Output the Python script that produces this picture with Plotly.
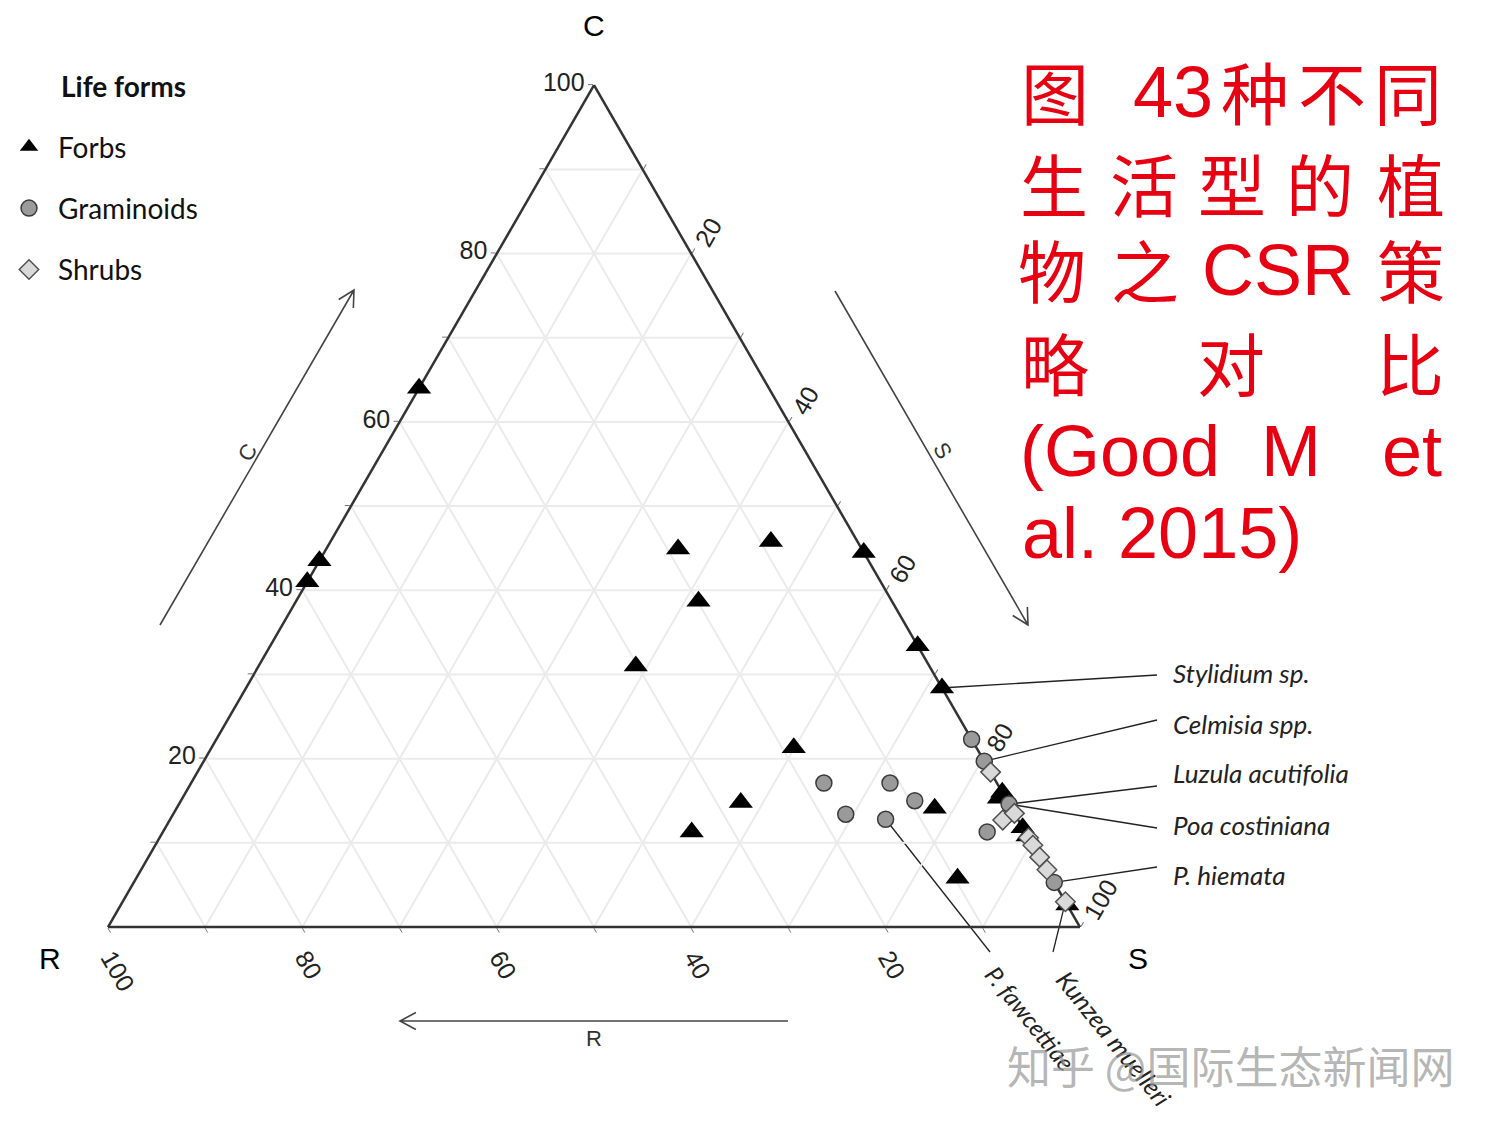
import math
import plotly.graph_objects as go

# ---------------- data (C, R, S percentages) ----------------
forbs_C = [64.0, 43.5, 41.0, 44.9, 45.8, 44.5, 38.7, 31.0, 33.4, 28.4, 21.3, 14.8, 11.3, 14.1, 5.8, 16.0, 15.3, 11.8, 10.8, 2.6]
forbs_R = [36.0, 56.5, 59.0, 18.9, 8.9, 0.0, 19.9, 30.2, 0.0, 0.0, 18.8, 27.5, 34.3, 7.9, 9.7, 0.0, 0.7, 0.0, 0.0, 0.0]
forbs_S = [0.0, 0.0, 0.0, 36.2, 45.3, 55.5, 41.4, 38.8, 66.6, 71.6, 59.9, 57.7, 54.4, 78.0, 84.5, 84.0, 84.0, 88.2, 89.2, 97.4]

gram_C = [22.3, 19.7, 17.1, 17.1, 15.0, 13.4, 12.8, 14.6, 11.3, 5.3]
gram_R = [0.0, 0.0, 17.8, 11.0, 9.5, 17.4, 13.6, 0.0, 3.9, 0.0]
gram_S = [77.7, 80.3, 65.1, 71.9, 75.5, 69.2, 73.6, 85.4, 84.8, 94.7]

shrub_C = [18.4, 12.7, 13.5, 10.6, 9.7, 8.3, 6.8, 3.0]
shrub_R = [0.0, 1.6, 0.0, 0.0, 0.0, 0.0, 0.0, 0.0]
shrub_S = [81.6, 85.7, 86.5, 89.4, 90.3, 91.7, 93.2, 97.0]

series_names = ["Forbs", "Graminoids", "Shrubs"]
tick_vals = [10, 20, 30, 40, 50, 60, 70, 80, 90, 100]
tick_text = ["", "20", "", "40", "", "60", "", "80", "", "100"]

species_labels = ["Stylidium sp.", "Celmisia spp.", "Luzula acutifolia", "Poa costiniana",
                  "P. hiemata", "P. fawcettiae", "Kunzea muelleri"]
species_refs = [("forbs", 9), ("gram", 1), ("gram", 7), ("gram", 7), ("gram", 9), ("gram", 6), ("shrub", 7)]

# ---------------- geometry ----------------
W, H = 1493, 1125
TRI_L, TRI_R, TRI_B = 108.0, 1080.0, 927.0
SIDE = TRI_R - TRI_L
TRI_T = TRI_B - SIDE * math.sqrt(3) / 2
V_C = ((TRI_L + TRI_R) / 2, TRI_T)
V_R = (TRI_L, TRI_B)
V_S = (TRI_R, TRI_B)


def tern_px(c, r, s):
    t = c + r + s
    x = (c * V_C[0] + r * V_R[0] + s * V_S[0]) / t
    y = (c * V_C[1] + r * V_R[1] + s * V_S[1]) / t
    return x, y


def pp(x, y):
    return x / W, 1 - y / H


yc = 1 - ((TRI_B + TRI_T) / 2) / H
data_map = {
    "forbs": (forbs_C, forbs_R, forbs_S),
    "gram": (gram_C, gram_R, gram_S),
    "shrub": (shrub_C, shrub_R, shrub_S),
}

fig = go.Figure()
fig.add_trace(go.Scatterternary(
    a=forbs_C, b=forbs_R, c=forbs_S, mode="markers", name=series_names[0],
    legendgroup="f", cliponaxis=False,
    marker=dict(symbol="triangle-up", size=21, color="black", line=dict(width=0))))
fig.add_trace(go.Scatterternary(
    a=gram_C, b=gram_R, c=gram_S, mode="markers", name=series_names[1],
    legendgroup="g", cliponaxis=False,
    marker=dict(symbol="circle", size=16, color="#9a9a9a", line=dict(width=1.5, color="#3a3a3a"))))
fig.add_trace(go.Scatterternary(
    a=shrub_C, b=shrub_R, c=shrub_S, mode="markers", name=series_names[2],
    legendgroup="s", cliponaxis=False,
    marker=dict(symbol="diamond", size=15, color="#d9d9d9", line=dict(width=1.5, color="#505050"))))

axis_common = dict(
    tickmode="array", tickvals=tick_vals, ticktext=tick_text,
    tickfont=dict(family="Liberation Sans, Arial", size=25, color="#222"),
    linecolor="#333", linewidth=2.5, gridcolor="#ebebeb", gridwidth=1.5,
    ticks="outside", ticklen=5, tickcolor="#777", layer="below traces",
    title=dict(text=""),
)

shapes = []
# leader lines
label_ends = [(1157, 675), (1157, 720), (1157, 786), (1157, 828), (1157, 867), (990, 952), (1053, 952)]
for (key, idx), (ex, ey) in zip(species_refs, label_ends):
    C, R, S = data_map[key]
    x0, y0 = tern_px(C[idx], R[idx], S[idx])
    dx, dy = ex - x0, ey - y0
    d = math.hypot(dx, dy)
    sx, sy = x0 + dx / d * 7, y0 + dy / d * 7
    a0 = pp(sx, sy)
    a1 = pp(ex, ey)
    shapes.append(dict(type="line", xref="paper", yref="paper", x0=a0[0], y0=a0[1], x1=a1[0], y1=a1[1],
                       line=dict(color="#222", width=1.3), layer="below"))


def arrow(x0, y0, x1, y1, head=18, ang=28):
    th = math.atan2(y1 - y0, x1 - x0)
    pts = []
    for sgn in (1, -1):
        a = th + math.pi - sgn * math.radians(ang)
        pts.append((x1 + head * math.cos(a), y1 + head * math.sin(a)))
    P = [pp(x0, y0), pp(x1, y1), pp(*pts[0]), pp(*pts[1])]
    path = (f"M {P[0][0]} {P[0][1]} L {P[1][0]} {P[1][1]} "
            f"M {P[2][0]} {P[2][1]} L {P[1][0]} {P[1][1]} L {P[3][0]} {P[3][1]}")
    return dict(type="path", xref="paper", yref="paper", path=path,
                line=dict(color="#444", width=1.6))


shapes.append(arrow(160, 625, 354, 290))
shapes.append(arrow(835, 291, 1028, 625))
shapes.append(arrow(788, 1021, 400, 1021))

ann = []


def add_text(text, x, y, size, color="black", family="Liberation Sans, Arial", xanchor="center",
             angle=0, yanchor="middle", height=None):
    px_, py_ = pp(x, y)
    d = dict(text=text, x=px_, y=py_, xref="paper", yref="paper", showarrow=False,
             xanchor=xanchor, yanchor=yanchor, textangle=angle,
             font=dict(size=size, color=color, family=family))
    if height is not None:
        d["height"] = height
    ann.append(d)


# vertex labels
add_text("C", 594, 25, 30)
add_text("R", 50, 958, 30)
add_text("S", 1138, 958, 30)
# arrow labels
add_text("C", 247, 452, 22, color="#333", angle=-60)
add_text("S", 943, 450, 22, color="#333", angle=60)
add_text("R", 594, 1038, 22, color="#333")
# species labels
for lab, yy in zip(species_labels[:5], [673, 724, 773, 825, 875]):
    add_text(f"<i>{lab}</i>", 1171, yy, 26, color="#222", family="Lato", xanchor="left")
add_text(f"<i>{species_labels[5]}</i>", 1031, 1018, 24, color="#222", family="Lato", angle=51)
add_text(f"<i>{species_labels[6]}</i>", 1114, 1038, 25, color="#222", family="Lato", angle=51)
# legend title
add_text("<b>Life forms</b>", 59, 86, 28, color="#111", family="Lato", xanchor="left")

# red title
RED = "#E60012"
CJK = "Noto Sans CJK SC"
LAT = "Liberation Sans, Arial"
title_tokens = [
    ("图", 1055, 90, CJK), ("43", 1173, 92, LAT), ("种", 1255, 90, CJK), ("不", 1332, 90, CJK), ("同", 1408, 90, CJK),
    ("生", 1054, 182, CJK), ("活", 1144, 182, CJK), ("型", 1232, 182, CJK), ("的", 1320, 182, CJK), ("植", 1411, 182, CJK),
    ("物", 1052, 268, CJK), ("之", 1145, 268, CJK), ("CSR", 1278, 270, LAT), ("策", 1411, 268, CJK),
    ("略", 1055, 361, CJK), ("对", 1231, 361, CJK), ("比", 1410, 361, CJK),
    ("(Good", 1120, 451, LAT), ("M", 1291, 451, LAT), ("et", 1412, 451, LAT),
    ("al. 2015)", 1162, 533, LAT),
]
for t, x, y, fam in title_tokens:
    add_text(t, x, y, 68 if fam == CJK else 72, color=RED, family=fam, height=80)

# watermark
add_text("知乎 @国际生态新闻网", 1230, 1065, 44, color="rgba(150,150,150,0.7)", family=CJK)

fig.update_layout(
    width=W, height=H, margin=dict(l=0, r=0, t=0, b=0),
    paper_bgcolor="white", plot_bgcolor="white",
    ternary=dict(
        sum=100,
        domain=dict(x=[TRI_L / W, TRI_R / W], y=[yc - 0.4, yc + 0.4]),
        bgcolor="rgba(0,0,0,0)",
        aaxis=dict(**axis_common),
        baxis=dict(**axis_common, tickangle=60),
        caxis=dict(**axis_common, tickangle=-60),
    ),
    legend=dict(x=0, y=1 - 122 / H, xanchor="left", yanchor="top",
                font=dict(family="Lato", size=28, color="#111"),
                tracegroupgap=22, itemwidth=48, bgcolor="rgba(0,0,0,0)"),
    shapes=shapes,
    annotations=ann,
    showlegend=True,
)

fig.write_html("out.html", config={"displayModeBar": False},
               post_script="document.body.style.margin='0px';document.body.style.overflow='hidden';")
